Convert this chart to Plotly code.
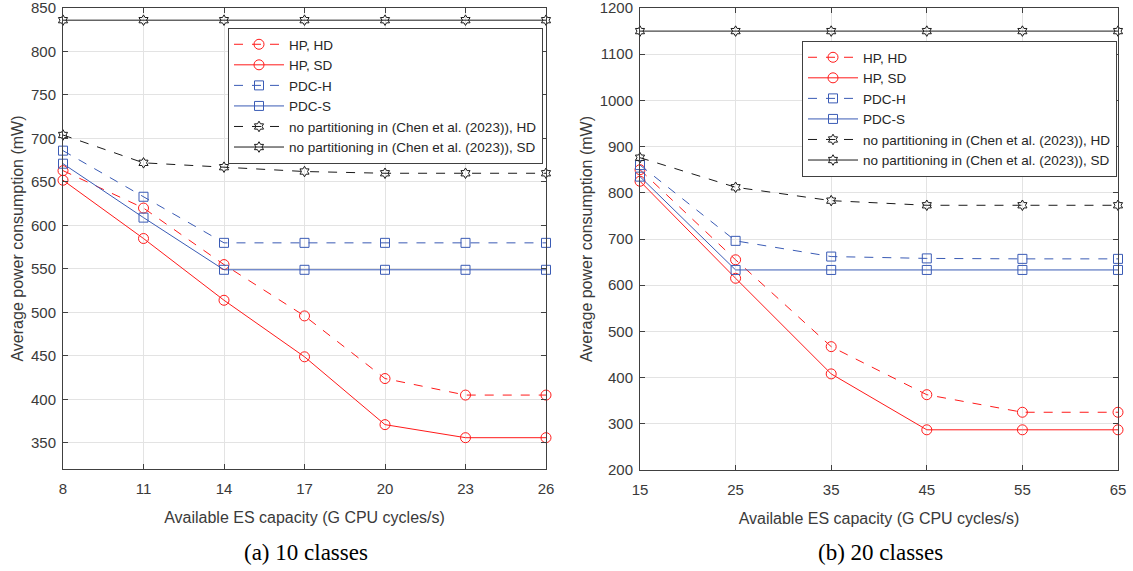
import plotly.graph_objects as go

# ---------------- data ----------------
x_a = [8, 11, 14, 17, 20, 23, 26]
hp_hd_a = [663, 620, 555, 496, 424, 405, 405]
hp_sd_a = [652, 585, 514, 449, 371, 356, 356]
pdc_h_a = [686, 633, 580, 580, 580, 580, 580]
pdc_s_a = [671, 609, 549, 549, 549, 549, 549]
np_hd_a = [704, 672, 667, 662, 660, 660, 660]
np_sd_a = [836, 836, 836, 836, 836, 836, 836]

x_b = [15, 25, 35, 45, 55, 65]
hp_hd_b = [850, 655, 467, 363, 325, 325]
hp_sd_b = [825, 615, 408, 287, 287, 287]
pdc_h_b = [860, 696, 662, 658, 657, 657]
pdc_s_b = [835, 633, 633, 633, 633, 633]
np_hd_b = [876, 812, 783, 773, 773, 773]
np_sd_b = [1150, 1150, 1150, 1150, 1150, 1150]

names = ["HP, HD", "HP, SD", "PDC-H", "PDC-S",
         "no partitioning in (Chen et al. (2023)), HD",
         "no partitioning in (Chen et al. (2023)), SD"]

RED = "#ff1a1a"
BLUE = "#3a5bb5"
BLACK = "#1a1a1a"
styles = [
    (RED, "dash", "circle-open", 10),
    (RED, "solid", "circle-open", 10),
    (BLUE, "dash", "square-open", 9),
    (BLUE, "solid", "square-open", 9),
    (BLACK, "dash", "hexagram-open", 8),
    (BLACK, "solid", "hexagram-open", 8),
]

fig = go.Figure()

series_a = [hp_hd_a, hp_sd_a, pdc_h_a, pdc_s_a, np_hd_a, np_sd_a]
series_b = [hp_hd_b, hp_sd_b, pdc_h_b, pdc_s_b, np_hd_b, np_sd_b]

for nm, ys, (c, d, s, sz) in zip(names, series_a, styles):
    fig.add_trace(go.Scatter(
        x=x_a, y=ys, name=nm, mode="lines+markers",
        line=dict(color=c, dash=d, width=1),
        marker=dict(symbol=s, size=sz, color=c, line=dict(width=1, color=c)),
        xaxis="x", yaxis="y", legend="legend", cliponaxis=False))

for nm, ys, (c, d, s, sz) in zip(names, series_b, styles):
    fig.add_trace(go.Scatter(
        x=x_b, y=ys, name=nm, mode="lines+markers",
        line=dict(color=c, dash=d, width=1),
        marker=dict(symbol=s, size=sz, color=c, line=dict(width=1, color=c)),
        xaxis="x2", yaxis="y2", legend="legend2", cliponaxis=False))

W, H = 1133, 571
SANS = "Liberation Sans, Arial, sans-serif"
TICKFONT = dict(family=SANS, size=15, color="#3a3a3a")
XTICKFONT = dict(family="Liberation Sans Narrow, Arial Narrow, Liberation Sans, sans-serif", size=15, color="#3a3a3a")
TITLEFONT = dict(family=SANS, size=16, color="#3a3a3a")
XTITLEFONT = dict(family="Liberation Sans Narrow, Arial Narrow, Liberation Sans, sans-serif", size=16, color="#3a3a3a")

axis_common = dict(
    showline=True, linecolor="#404040", linewidth=1, mirror="allticks",
    ticks="inside", ticklen=5, tickcolor="#404040",
    showgrid=True, gridcolor="#e3e3e3", gridwidth=1, zeroline=False,
    ticklabeloverflow="allow", automargin=False,
)

fig.update_layout(
    width=W, height=H,
    margin=dict(l=0, r=0, t=0, b=0, autoexpand=False),
    paper_bgcolor="white", plot_bgcolor="white",
    xaxis=dict(domain=[63 / W, 546 / W], range=[8, 26], tickvals=x_a,
               anchor="y", tickfont=XTICKFONT, ticklabelstandoff=6,
               title=dict(text="Available ES capacity (G CPU cycles/s)", font=XTITLEFONT, standoff=15),
               **axis_common),
    yaxis=dict(domain=[1 - 469 / H, 1 - 8 / H], range=[320, 850], dtick=50,
               anchor="x", tickfont=TICKFONT, ticklabelstandoff=3,
               title=dict(text="Average power consumption (mW)", font=TITLEFONT, standoff=3),
               **axis_common),
    xaxis2=dict(domain=[640 / W, 1118 / W], range=[15, 65], tickvals=x_b,
                anchor="y2", tickfont=XTICKFONT, ticklabelstandoff=6,
                title=dict(text="Available ES capacity (G CPU cycles/s)", font=XTITLEFONT, standoff=15),
                **axis_common),
    yaxis2=dict(domain=[1 - 470 / H, 1 - 8 / H], range=[200, 1200], dtick=100,
                anchor="x2", tickfont=TICKFONT, ticklabelstandoff=3,
                title=dict(text="Average power consumption (mW)", font=TITLEFONT, standoff=3),
                **axis_common),
    legend=dict(x=228 / W, y=1 - 28 / H, xanchor="left", yanchor="top",
                bgcolor="white", bordercolor="#404040", borderwidth=1,
                font=dict(family=SANS, size=13.5, color="#262626"),
                tracegroupgap=0, itemwidth=50),
    legend2=dict(x=802 / W, y=1 - 41 / H, xanchor="left", yanchor="top",
                 bgcolor="white", bordercolor="#404040", borderwidth=1,
                 font=dict(family=SANS, size=13.5, color="#262626"),
                 tracegroupgap=0, itemwidth=50),
    showlegend=True,
)

CAP = dict(family="Liberation Serif, Times New Roman, serif", size=23, color="black")
fig.add_annotation(text="(a) 10 classes", x=306 / W, y=1 - 552 / H, xref="paper", yref="paper",
                   showarrow=False, font=CAP, xanchor="center", yanchor="middle")
fig.add_annotation(text="(b) 20 classes", x=880 / W, y=1 - 552 / H, xref="paper", yref="paper",
                   showarrow=False, font=CAP, xanchor="center", yanchor="middle")

fig.write_html("out.html")
